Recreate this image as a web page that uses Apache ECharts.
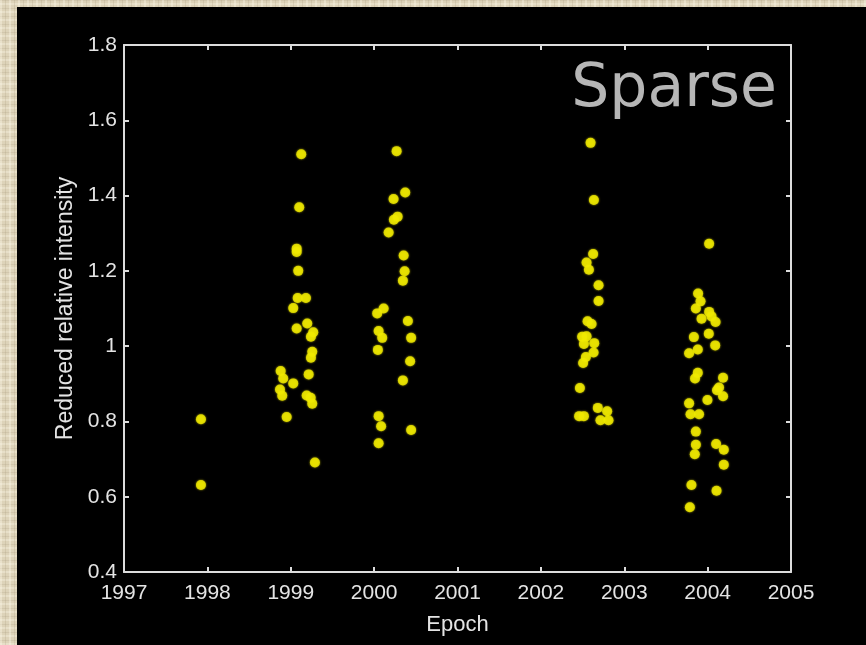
<!DOCTYPE html>
<html>
<head>
<meta charset="utf-8">
<script src="https://cdn.jsdelivr.net/npm/echarts@6/dist/echarts.min.js"></script>
<style>
  html, body { margin: 0; padding: 0; width: 866px; height: 645px; overflow: hidden; }
  body {
    position: relative;
    background-color: #ddd3b9;
    background-image:
      repeating-linear-gradient(90deg, rgba(255,250,235,0.35) 0 2px, rgba(0,0,0,0) 2px 5px, rgba(150,135,105,0.18) 5px 6px, rgba(0,0,0,0) 6px 9px),
      repeating-linear-gradient(0deg, rgba(255,250,235,0.30) 0 2px, rgba(0,0,0,0) 2px 4px, rgba(150,135,105,0.16) 4px 5px, rgba(0,0,0,0) 5px 8px);
  }
  #chart { position: absolute; left: 17px; top: 7px; width: 849px; height: 638px; background: #000; }
</style>
</head>
<body>
<div id="chart"></div>
<script>
// Observing seasons: epoch (decimal year) and reduced relative intensity
const epoch1998 = [1997.923, 1997.923];
const level1998 = [0.806, 0.631];

const epoch1999 = [1999.126, 1999.102, 1999.071, 1999.071, 1999.090, 1999.083, 1999.182, 1999.030,
                   1999.071, 1999.198, 1999.270, 1999.242, 1999.258, 1999.242, 1999.215, 1998.879,
                   1998.910, 1999.030, 1998.871, 1998.898, 1999.191, 1999.239, 1999.258, 1998.951, 1999.290];
const level1999 = [1.510, 1.369, 1.259, 1.250, 1.200, 1.128, 1.128, 1.101,
                   1.047, 1.060, 1.037, 1.025, 0.985, 0.969, 0.925, 0.934,
                   0.914, 0.901, 0.885, 0.868, 0.869, 0.863, 0.847, 0.812, 0.691];

const epoch2000 = [2000.270, 2000.373, 2000.233, 2000.282, 2000.237, 2000.174, 2000.354, 2000.366,
                   2000.345, 2000.114, 2000.037, 2000.405, 2000.054, 2000.097, 2000.444, 2000.045,
                   2000.432, 2000.345, 2000.054, 2000.084, 2000.444, 2000.054];
const level2000 = [1.518, 1.408, 1.391, 1.344, 1.336, 1.302, 1.241, 1.199,
                   1.174, 1.100, 1.087, 1.067, 1.040, 1.022, 1.022, 0.990,
                   0.960, 0.909, 0.814, 0.787, 0.777, 0.742];

const epoch2002 = [2002.596, 2002.636, 2002.627, 2002.548, 2002.576, 2002.692, 2002.692, 2002.560,
                   2002.608, 2002.495, 2002.548, 2002.516, 2002.640, 2002.632, 2002.540, 2002.507,
                   2002.468, 2002.683, 2002.795, 2002.459, 2002.516, 2002.715, 2002.811];
const level2002 = [1.540, 1.388, 1.245, 1.222, 1.203, 1.162, 1.120, 1.066,
                   1.059, 1.025, 1.026, 1.006, 1.008, 0.983, 0.971, 0.955,
                   0.889, 0.836, 0.827, 0.814, 0.814, 0.803, 0.803];

const epoch2004 = [2004.018, 2003.886, 2003.915, 2003.859, 2004.018, 2004.047, 2004.095, 2003.927,
                   2003.835, 2004.014, 2004.091, 2003.882, 2003.778, 2003.882, 2003.849, 2004.185,
                   2004.137, 2004.113, 2004.185, 2003.998, 2003.778, 2003.795, 2003.897, 2003.859,
                   2003.859, 2004.102, 2004.194, 2003.846, 2004.194, 2003.806, 2004.107, 2003.787];
const level2004 = [1.272, 1.140, 1.119, 1.100, 1.091, 1.079, 1.064, 1.073,
                   1.024, 1.033, 1.002, 0.991, 0.981, 0.929, 0.914, 0.916,
                   0.890, 0.883, 0.867, 0.857, 0.848, 0.819, 0.819, 0.773,
                   0.738, 0.740, 0.725, 0.713, 0.685, 0.631, 0.616, 0.572];

const seasons = [
  [epoch1998, level1998],
  [epoch1999, level1999],
  [epoch2000, level2000],
  [epoch2002, level2002],
  [epoch2004, level2004]
];

const points = [];
seasons.forEach(([ep, lv]) => ep.forEach((t, i) => points.push([t, lv[i]])));

const panelTitle = 'Sparse';
const xName = 'Epoch';
const yName = 'Reduced relative intensity';

const axisColor = '#dcdcdc';
const labelColor = '#e4e4e4';
const font = 'Liberation Sans, Arial, Helvetica, sans-serif';

function boxAxis(extra) {
  return Object.assign({
    type: 'value',
    axisLine: { show: true, onZero: false, lineStyle: { color: axisColor, width: 2 } },
    axisTick: { show: true, inside: true, length: 5, lineStyle: { color: axisColor, width: 2 } },
    splitLine: { show: false }
  }, extra);
}

const chart = echarts.init(document.getElementById('chart'), null, { renderer: 'canvas' });
chart.setOption({
  backgroundColor: '#000000',
  animation: false,
  grid: { left: 107, top: 38, right: 75, bottom: 73, containLabel: false },
  xAxis: [
    boxAxis({
      min: 1997, max: 2005, interval: 1, position: 'bottom',
      name: xName, nameLocation: 'middle', nameGap: 42,
      nameTextStyle: { color: labelColor, fontSize: 22, fontFamily: font },
      axisLabel: {
        color: labelColor, fontSize: 21, fontFamily: font, margin: 11,
        formatter: v => String(Math.round(v))
      }
    }),
    boxAxis({
      min: 1997, max: 2005, interval: 1, position: 'top',
      axisLabel: { show: false }
    })
  ],
  yAxis: [
    boxAxis({
      min: 0.4, max: 1.8, interval: 0.2, position: 'left',
      name: yName, nameLocation: 'middle', nameGap: 40, nameRotate: 90,
      nameTextStyle: { color: labelColor, fontSize: 23, fontFamily: font },
      axisLabel: {
        color: labelColor, fontSize: 21, fontFamily: font, margin: 7,
        formatter: v => String(parseFloat(v.toFixed(1)))
      }
    }),
    boxAxis({
      min: 0.4, max: 1.8, interval: 0.2, position: 'right',
      axisLabel: { show: false }
    })
  ],
  graphic: [{
    type: 'text',
    x: 760, y: 83,
    style: {
      text: panelTitle,
      fill: '#b6b6b6',
      font: '60px "DejaVu Sans", sans-serif',
      textAlign: 'right',
      textVerticalAlign: 'middle'
    },
    z: 10
  }],
  series: [{
    type: 'scatter',
    xAxisIndex: 0,
    yAxisIndex: 0,
    data: points,
    symbol: 'circle',
    symbolSize: 10,
    itemStyle: { color: '#f0ea00', shadowBlur: 2, shadowColor: '#f0ea00' }
  }]
});
</script>
</body>
</html>
